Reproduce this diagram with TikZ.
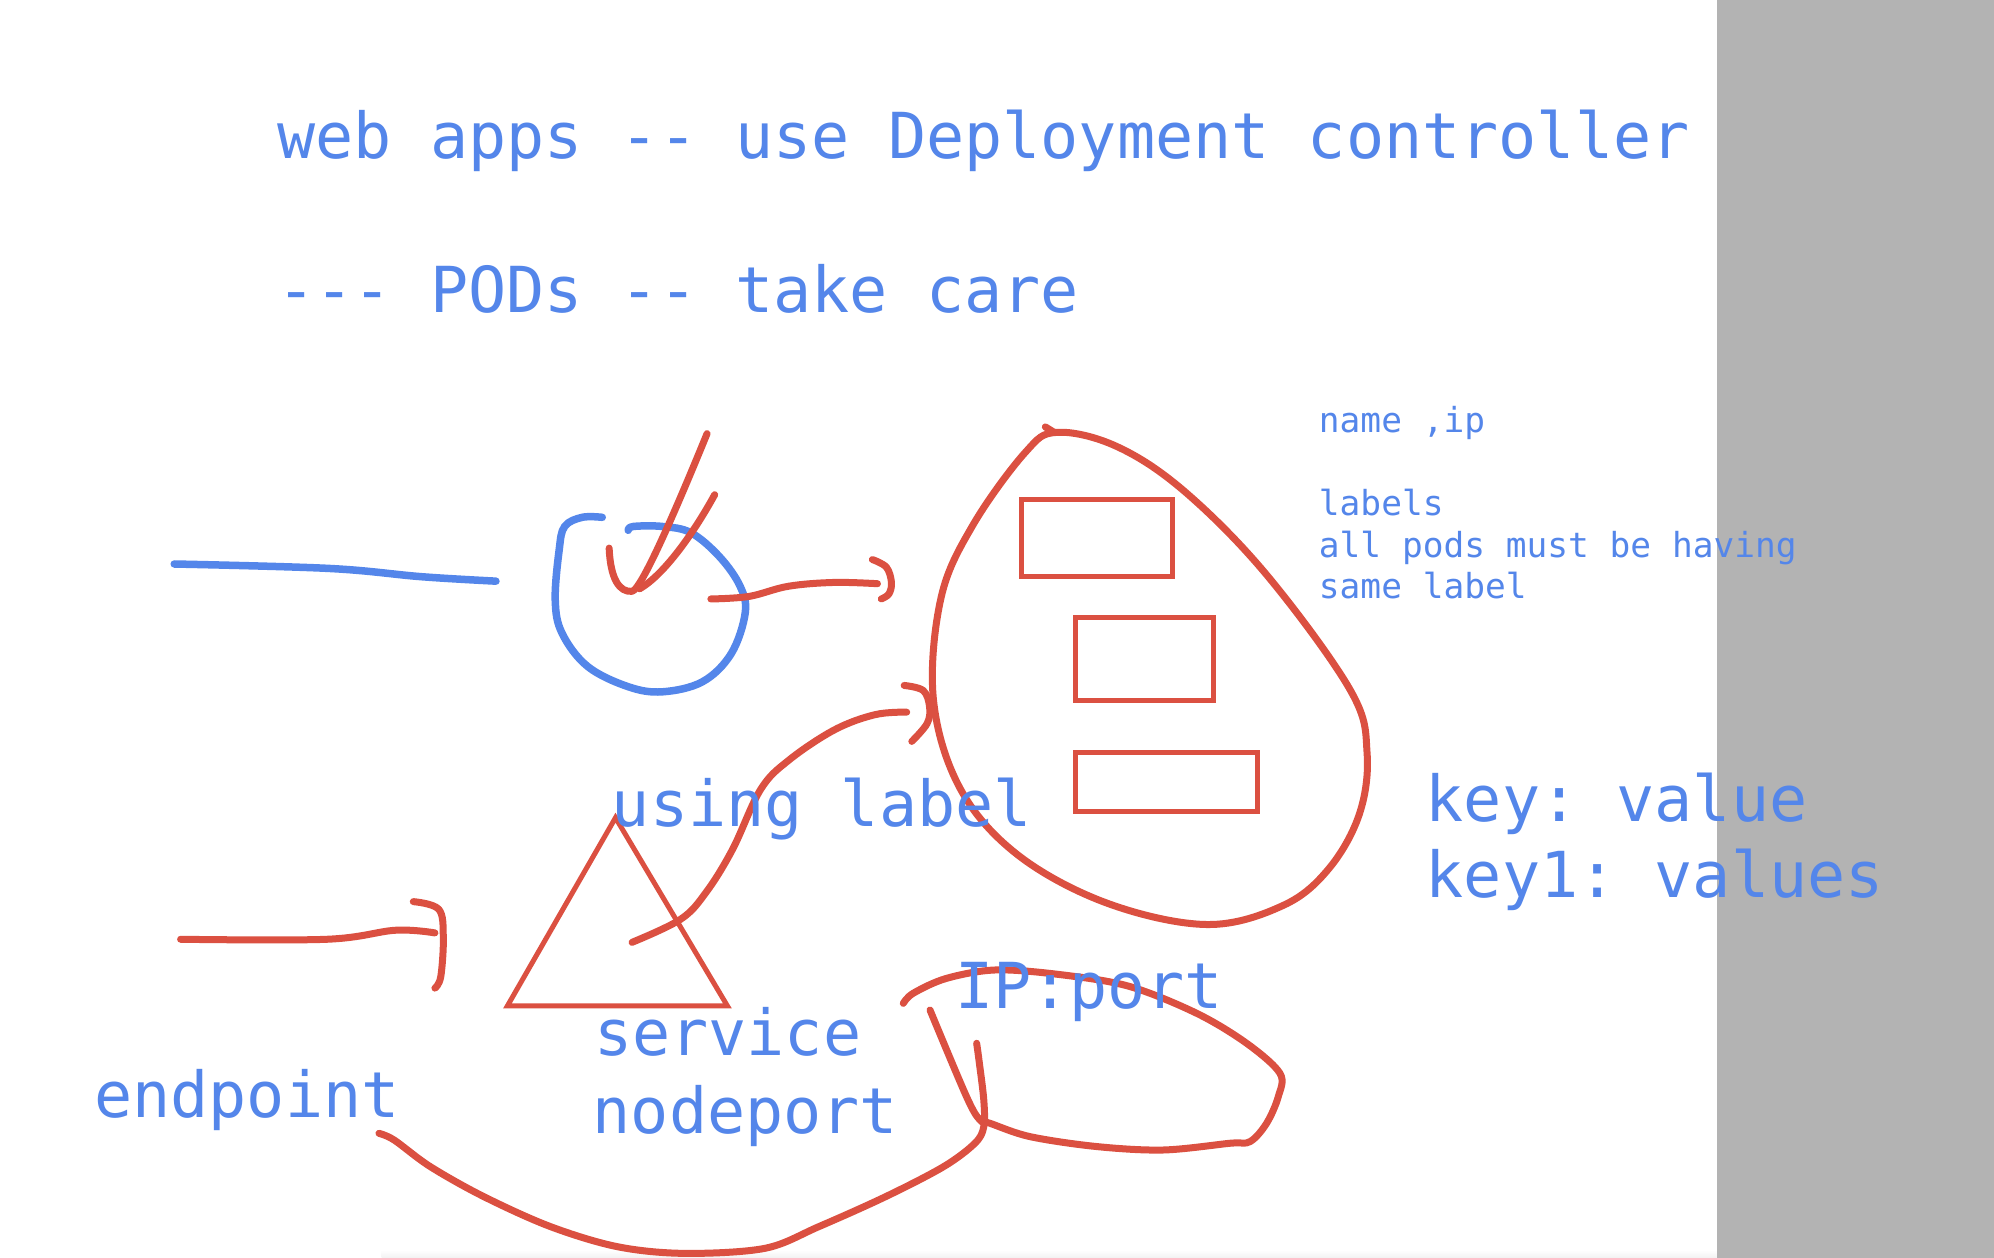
\documentclass[tikz,border=0pt]{standalone}
\usepackage{fontspec}
\newfontfamily\monofnt{DejaVu Sans Mono}
\definecolor{penblue}{RGB}{84,134,234}
\definecolor{penred}{RGB}{219,80,65}
\definecolor{panelgray}{RGB}{179,179,179}
\tikzset{
  bigtxt/.style={anchor=base west,inner sep=0pt,text=penblue,font=\frenchspacing\monofnt\fontsize{63.4}{76}\selectfont},
  smalltxt/.style={anchor=base west,inner sep=0pt,text=penblue,font=\frenchspacing\monofnt\fontsize{34.5}{41.6}\selectfont},
  redpen/.style={draw=penred,line width=7pt,line cap=round,line join=round},
  bluepen/.style={draw=penblue,line width=7.5pt,line cap=round,line join=round},
  redthin/.style={draw=penred,line width=5pt,line join=miter},
}
\begin{document}
\begin{tikzpicture}[x=1.2717pt,y=-1.2717pt]
\useasboundingbox (0,0) rectangle (1568,989);
\fill[white] (0,0) rectangle (1568,989);
\shade[top color=white,bottom color=black!5] (300,983) rectangle (1350,989);
\fill[panelgray] (1350,0) rectangle (1568,989);

% texts
\node[bigtxt] (title) at (218,125) {web apps -{}- use Deployment controller};
\node[bigtxt] (pods) at (218,246) {-{}-{}- PODs -{}- take care};
\node[smalltxt] (nameip) at (1037,340) {name ,ip};
\node[smalltxt] (labels) at (1037,405) {labels};
\node[smalltxt] (allpods) at (1037,438) {all pods must be having};
\node[smalltxt] (same) at (1037,471) {same label};
\node[bigtxt] (key) at (1121,646) {key: value};
\node[bigtxt] (keyone) at (1121,706) {key1: values};

% blue line and open circle
\draw[bluepen] plot[smooth,tension=0.6] coordinates {(137,443.5) (259,447) (331.5,453.5) (390,457)};
\draw[bluepen] plot[smooth,tension=0.6] coordinates {(473.6,406.8) (457.8,406.8) (444,414) (439.7,432.5) (436.6,471.8) (442,498) (462,524) (494,540) (521,544) (552.6,536) (575,514) (586,482) (582,461) (566,438) (543.5,419) (521,414) (498,414) (494,417)};

% check mark
\draw[redpen] (479,431) .. controls (480,455) and (487,466) .. (497,465) .. controls (505,464) and (538,385) .. (556,341);
\draw[redpen] (562,389) .. controls (545,420) and (522,452) .. (503,463);

% arrow circle -> pods
\draw[redpen] plot[smooth,tension=0.6] coordinates {(559,471) (589,469) (620,461) (656,458) (690,459)};
\draw[redpen] plot[smooth,tension=0.6] coordinates {(686,440) (697,446) (701,458) (699,467) (693,471)};

% pods blob
\draw[redpen] plot[smooth cycle,tension=0.6] coordinates {(831,340) (878,351) (931,386) (996,452) (1062,543) (1075,592) (1069,640) (1045,683) (1009,712) (949,727) (870,710) (800,672) (755,620) (734,550) (740,470) (765,413) (806,356)};
\draw[redpen] (822,335.7) -- (829,340);

% pods
\draw[redthin] (803.6,392.5) rectangle (921.6,453.7);
\draw[redthin] (846,485.6) rectangle (954.6,551);
\draw[redthin] (846,591.4) rectangle (989,638);

% service triangle
\draw[redthin] (484,643) -- (399,791) -- (572,791) -- cycle;

% curve triangle -> pods
\draw[redpen] plot[smooth,tension=0.6] coordinates {(497,741) (535,723) (555,702) (576,668) (598,621) (620,598) (656,574) (688,562) (713,560)};
\draw[redpen] plot[smooth,tension=0.6] coordinates {(711,539) (726,543) (731,556) (729,569) (717,583)};

% left arrow -> service
\draw[redpen] plot[smooth,tension=0.6] coordinates {(142,738.6) (257,738.6) (311,731.5) (342,733.6)};
\draw[redpen] plot[smooth,tension=0.6] coordinates {(325,709) (345,715) (348.6,737) (346.6,768) (342,777)};

% bottom curve endpoint -> IP:port
\draw[redpen] plot[smooth,tension=0.55] coordinates {(298,891.2) (310,896.5) (338.4,917.4) (380.5,941) (433,964.6) (485.8,980.4) (538.5,985.6) (601.6,981.6) (643.8,964.6) (696.4,941) (742,917.4) (766.6,899) (773.6,886) (773.6,865) (770,835) (768,820.4)};

% loop around IP:port
\draw[redpen] plot[smooth,tension=0.55] coordinates {(710.3,789) (718.2,781) (744.4,769.3) (783.7,762.7) (836.2,766.7) (888.6,775.8) (941,796.8) (980.3,820.4) (1006.5,844) (1005.2,862.3) (996,883.3) (983,897.7) (967.2,899) (914.8,904.3) (862.4,901.6) (810,893.8) (778.5,883.3) (770.6,880.7) (760,862.3) (731.3,794.2)};

% lower texts
\node[bigtxt] (using) at (481,650) {using label};
\node[bigtxt] (ipport) at (751,793) {IP:port};
\node[bigtxt] (service) at (467,830) {service};
\node[bigtxt] (nodeport) at (466,891) {nodeport};
\node[bigtxt] (endpoint) at (74,879) {endpoint};
\end{tikzpicture}
\end{document}
